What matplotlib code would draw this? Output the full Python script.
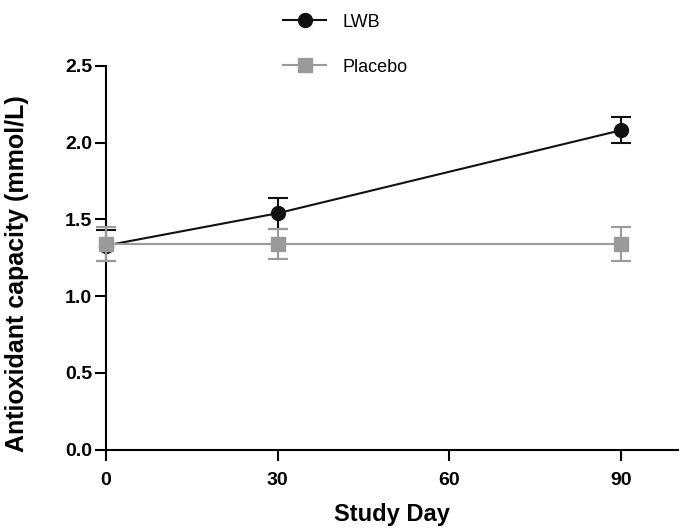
import matplotlib.pyplot as plt
from matplotlib.lines import Line2D

plt.rcParams['font.family'] = ['Liberation Sans', 'DejaVu Sans']

# data
days = [0, 30, 90]
lwb = [1.33, 1.54, 2.08]
lwb_err = [0.10, 0.10, 0.085]
placebo = [1.34, 1.34, 1.34]
placebo_err = [0.11, 0.10, 0.11]

xticks = [0, 30, 60, 90]
yticks = [0.0, 0.5, 1.0, 1.5, 2.0, 2.5]

fig = plt.figure(figsize=(6.84, 5.31), dpi=100)
ax = fig.add_axes([0.155, 0.153, 0.836, 0.723])

gray = '#9a9a9a'
dark = '#111111'
ax.errorbar(days, lwb, yerr=lwb_err, color=dark, marker='o', markersize=10,
            lw=1.5, capsize=7, capthick=1.5, elinewidth=1.5, zorder=2,
            clip_on=False)
ax.errorbar(days, placebo, yerr=placebo_err, color=gray, marker='s', markersize=10,
            lw=1.5, capsize=7, capthick=1.5, elinewidth=1.5, zorder=3,
            clip_on=False)

ax.set_xlim(0, 100)
ax.set_ylim(0, 2.5)
ax.set_xticks(xticks)
ax.set_xticklabels([str(t) for t in xticks])
ax.set_yticks(yticks)
ax.set_yticklabels(['%.1f' % t for t in yticks])

for s in ['top', 'right']:
    ax.spines[s].set_visible(False)
for s in ['left', 'bottom']:
    ax.spines[s].set_linewidth(1.5)
ax.tick_params(width=1.5, length=8, labelsize=14)
ax.tick_params(axis='x', pad=8)
ax.tick_params(axis='y', pad=2)
for lab in ax.get_xticklabels() + ax.get_yticklabels():
    lab.set_fontweight('bold')

ax.set_xlabel('Study Day', fontsize=17, fontweight='bold', labelpad=10)
ax.set_ylabel('Antioxidant capacity (mmol/L)', fontsize=18, fontweight='bold')
ax.yaxis.set_label_coords(-0.135, 0.46)

handles = [Line2D([], [], color=dark, marker='o', markersize=10, lw=1.5),
           Line2D([], [], color=gray, marker='s', markersize=10, lw=1.5)]
fig.legend(handles, ['LWB', 'Placebo'], loc='upper left',
           bbox_to_anchor=(0.39, 1.005), frameon=False,
           prop={'family': 'Liberation Sans', 'size': 13},
           handlelength=2.4, labelspacing=1.55, handletextpad=0.9)

fig.savefig('out.png', dpi=100)
